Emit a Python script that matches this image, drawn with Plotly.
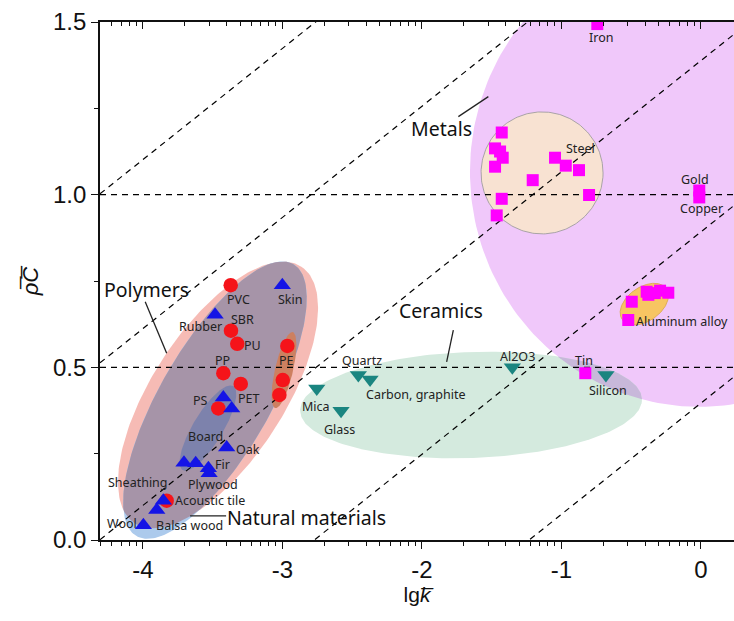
import numpy as np
import plotly.graph_objects as go

# ---------------- data ----------------
polymer_x = [-3.370, -3.368, -3.323, -2.964, -3.423, -3.298, -2.997, -3.021, -3.459, -3.829]
polymer_y = [0.738, 0.606, 0.568, 0.562, 0.483, 0.452, 0.463, 0.420, 0.381, 0.114]

natural_x = [-3.000, -3.482, -3.423, -3.363, -3.399, -3.705, -3.621, -3.530, -3.525, -3.853, -3.900, -3.996]
natural_y = [0.738, 0.652, 0.413, 0.381, 0.268, 0.224, 0.222, 0.208, 0.193, 0.114, 0.087, 0.043]

ceramic_x = [-2.753, -2.579, -2.455, -2.371, -1.351, -0.680]
ceramic_y = [0.439, 0.374, 0.478, 0.465, 0.500, 0.478]

metal_x = [-0.742, -1.427, -1.475, -1.439, -1.420, -1.475, -1.045, -0.968, -0.873, -1.205,
           -1.427, -0.801, -1.463, -0.011, -0.011,
           -0.495, -0.520, -0.388, -0.376, -0.330, -0.292, -0.233, -0.828]
metal_y = [1.494, 1.180, 1.134, 1.125, 1.107, 1.081, 1.107, 1.084, 1.071, 1.042,
           0.988, 0.999, 0.940, 1.012, 0.992,
           0.690, 0.637, 0.719, 0.710, 0.715, 0.722, 0.716, 0.483]

label_text = ["PVC", "Skin", "Rubber", "SBR", "PU", "PP", "PE", "PS", "PET", "Board", "Oak",
              "Fir", "Plywood", "Sheathing", "Acoustic tile", "Wool", "Balsa wood",
              "Quartz", "Carbon, graphite", "Mica", "Glass", "Al2O3", "Tin", "Silicon",
              "Iron", "Steel", "Gold", "Copper", "Aluminum alloy"]
label_x = [-3.317, -2.938, -3.583, -3.282, -3.214, -3.429, -2.973, -3.590, -3.239, -3.551, -3.246,
           -3.429, -3.497, -4.038, -3.522, -4.149, -3.669,
           -2.431, -2.042, -2.758, -2.587, -1.314, -0.839, -0.662,
           -0.716, -0.859, -0.045, 0.005, -0.135]
label_y = [0.695, 0.695, 0.617, 0.639, 0.562, 0.521, 0.521, 0.405, 0.411, 0.301, 0.261,
           0.220, 0.162, 0.166, 0.113, 0.048, 0.043,
           0.521, 0.422, 0.388, 0.321, 0.531, 0.519, 0.432,
           1.456, 1.134, 1.045, 0.961, 0.634]

group_text = ["Polymers", "Metals", "Ceramics", "Natural materials"]
group_x = [-3.973, -1.862, -1.862, -2.828]
group_y = [0.724, 1.192, 0.666, 0.064]
# leader lines (x0, y0, x1, y1)
leader_lines = [(-3.983, 0.690, -3.829, 0.541),
                (-1.738, 1.226, -1.523, 1.284),
                (-1.774, 0.608, -1.822, 0.516),
                (-3.661, 0.070, -3.403, 0.070)]

x_tick_vals = [-4, -3, -2, -1, 0]
x_tick_text = ["-4", "-3", "-2", "-1", "0"]
y_tick_vals = [0.0, 0.5, 1.0, 1.5]
y_tick_text = ["0.0", "0.5", "1.0", "1.5"]

# guide lines
guide_slope = 0.322
guide_x0 = [-7.42, -5.90, -4.31, -2.77, -1.23]
guide_h = [0.5, 1.0]

# ---------------- layout geometry ----------------
W, H = 734, 621
ML, MR, MT, MB = 100, 0, 22, 81
XR = [-4.307, 0.238]
YR = [0.0, 1.5]
KX = (W - ML - MR) / (XR[1] - XR[0])
KY = (H - MT - MB) / (YR[1] - YR[0])

# regions: center (data), semi-axes (px), angle (deg), fill rgb, outline
regions = {
    "metals":   (-0.006, 1.066, 230, 235, 0, (240, 200, 250), None),
    "steel":    (-1.138, 1.063, 61, 61, 0, (248, 226, 210), "rgba(150,150,150,0.8)"),
    "aluminum": (-0.405, 0.683, 27, 17, 35, (247, 197, 98), "rgba(220,170,80,0.9)"),
    "ceramics": (-1.647, 0.391, 171, 53, 2, (212, 234, 222), None),
    "polymers": (-3.461, 0.420, 153, 66, 57, (246, 187, 181), None),
    "natural":  (-3.483, 0.405, 157, 55, 60, (172, 202, 236), None),
    "board":    (-3.533, 0.324, 49, 15, 59, (125, 130, 172), None),
    "pe":       (-2.988, 0.492, 39, 9, 77, (205, 128, 96), None),
}
draw_order = ["metals", "steel", "aluminum", "ceramics", "polymers", "natural"]
overlaps = [("polymers", "natural"), ("metals", "ceramics")]
top_regions = ["board", "pe"]


def ellipse_px(cx, cy, a, b, ang, n=240):
    t = np.linspace(0, 2 * np.pi, n, endpoint=False)
    th = np.radians(ang)
    dx = a * np.cos(t) * np.cos(th) - b * np.sin(t) * np.sin(th)
    dy = a * np.cos(t) * np.sin(th) + b * np.sin(t) * np.cos(th)
    return np.column_stack([cx * KX + dx, cy * KY + dy])


def to_data(p):
    return p[:, 0] / KX, p[:, 1] / KY


def clip_convex(subject, clipper):
    out = list(subject)
    m = len(clipper)
    for i in range(m):
        a, b = clipper[i], clipper[(i + 1) % m]
        inp, out = out, []
        if not inp:
            break

        def inside(p):
            return (b[0] - a[0]) * (p[1] - a[1]) - (b[1] - a[1]) * (p[0] - a[0]) >= 0

        def inter(p, q):
            d1 = p - q
            d2 = a - b
            den = d1[0] * d2[1] - d1[1] * d2[0]
            t = ((p[0] - a[0]) * d2[1] - (p[1] - a[1]) * d2[0]) / den
            return p - t * d1

        s = inp[-1]
        for e in inp:
            if inside(e):
                if not inside(s):
                    out.append(inter(s, e))
                out.append(e)
            elif inside(s):
                out.append(inter(s, e))
            s = e
    return np.array(out)


def rgb(c):
    return "rgb(%d,%d,%d)" % c


fig = go.Figure()


def add_poly(p, color, line=None):
    x, y = to_data(np.vstack([p, p[:1]]))
    fig.add_trace(go.Scatter(
        x=x, y=y, mode="lines", fill="toself", fillcolor=color,
        line=dict(color=line if line else "rgba(0,0,0,0)", width=1),
        hoverinfo="skip", showlegend=False))


polys = {k: ellipse_px(*v[:5]) for k, v in regions.items()}
for k in draw_order:
    add_poly(polys[k], rgb(regions[k][5]), regions[k][6])
for k1, k2 in overlaps:
    inter_p = clip_convex(polys[k1], polys[k2])
    c1, c2 = regions[k1][5], regions[k2][5]
    mult = tuple(int(round(u * v / 255)) for u, v in zip(c1, c2))
    if len(inter_p) > 2:
        add_poly(inter_p, rgb(mult))
for k in top_regions:
    add_poly(polys[k], rgb(regions[k][5]), regions[k][6])

gx = np.array([XR[0], XR[1]])
for x0 in guide_x0:
    fig.add_trace(go.Scatter(x=gx, y=guide_slope * (gx - x0), mode="lines",
                             line=dict(color="black", width=1.2, dash="6px,5px"),
                             hoverinfo="skip", showlegend=False))
for hy in guide_h:
    fig.add_trace(go.Scatter(x=gx, y=[hy, hy], mode="lines",
                             line=dict(color="black", width=1.2, dash="6px,5px"),
                             hoverinfo="skip", showlegend=False))

fig.add_trace(go.Scatter(x=polymer_x, y=polymer_y, mode="markers",
                         marker=dict(symbol="circle", size=14.5, color="#f5141a"),
                         showlegend=False))
fig.add_trace(go.Scatter(x=natural_x, y=natural_y, mode="markers",
                         marker=dict(symbol="triangle-up", size=15, color="#1414e6"),
                         showlegend=False))
fig.add_trace(go.Scatter(x=ceramic_x, y=ceramic_y, mode="markers",
                         marker=dict(symbol="triangle-down", size=15, color="#1a8580"),
                         showlegend=False))
fig.add_trace(go.Scatter(x=metal_x, y=metal_y, mode="markers", cliponaxis=True,
                         marker=dict(symbol="square", size=12, color="#ff00ff"),
                         showlegend=False))
# invisible trace for the top axis
fig.add_trace(go.Scatter(x=[XR[0]], y=[YR[0]], xaxis="x2", mode="markers",
                         marker=dict(opacity=0), hoverinfo="skip", showlegend=False))

for t, x, y in zip(label_text, label_x, label_y):
    fig.add_annotation(x=x, y=y, text=t, showarrow=False, xanchor="center", yanchor="middle",
                       font=dict(family="Noto Sans", size=12.5, color="#222"))
for t, x, y in zip(group_text, group_x, group_y):
    fig.add_annotation(x=x, y=y, text=t, showarrow=False, xanchor="center", yanchor="middle",
                       font=dict(family="Noto Sans", size=19.5, color="#111"))
for x0, y0, x1, y1 in leader_lines:
    fig.add_shape(type="line", x0=x0, y0=y0, x1=x1, y1=y1, xref="x", yref="y",
                  line=dict(color="#222", width=1.3), layer="above")

minor_x = sorted(d + np.log10(n) for d in range(-5, 1) for n in range(2, 10)
                 if XR[0] <= d + np.log10(n) <= XR[1])
axis_font = dict(family="Liberation Sans, Arial", size=24, color="#111")

fig.update_layout(
    width=W, height=H,
    margin=dict(l=ML, r=MR, t=MT, b=MB),
    plot_bgcolor="white", paper_bgcolor="white",
    xaxis=dict(range=XR, showgrid=False, zeroline=False, showline=True, linecolor="#111",
               linewidth=1.6, ticks="outside", ticklen=7, tickwidth=1.4, tickcolor="#111",
               tickmode="array", tickvals=x_tick_vals, ticktext=x_tick_text,
               tickfont=axis_font,
               minor=dict(tickmode="array", tickvals=minor_x, ticks="outside", ticklen=4,
                          tickwidth=1.2, tickcolor="#111", showgrid=False),
               title=dict(text="lg<i>k\u0305</i>", font=dict(family="Liberation Sans, Arial",
                                                              size=21, color="#111"),
                          standoff=4)),
    xaxis2=dict(range=XR, overlaying="x", side="top", anchor="y", showgrid=False,
                zeroline=False, showline=True, linecolor="#111", linewidth=1.6,
                ticks="inside", ticklen=7, tickwidth=1.4, tickcolor="#111",
                tickmode="array", tickvals=x_tick_vals, showticklabels=False,
                minor=dict(tickmode="array", tickvals=minor_x, ticks="inside", ticklen=4,
                           tickwidth=1.2, tickcolor="#111", showgrid=False)),
    yaxis=dict(range=YR, showgrid=False, zeroline=False, showline=True, linecolor="#111",
               linewidth=1.6, ticks="outside", ticklen=7, tickwidth=1.4, tickcolor="#111",
               tickmode="array", tickvals=y_tick_vals, ticktext=y_tick_text,
               tickfont=axis_font,
               minor=dict(tickmode="array", tickvals=[0.25, 0.75, 1.25], ticks="outside",
                          ticklen=4, tickwidth=1.2, tickcolor="#111", showgrid=False),
               title=dict(text="<i>\u03c1\u0305C\u0305</i>",
                          font=dict(family="Liberation Sans, Arial", size=22, color="#111"),
                          standoff=8)),
)

fig.write_html("out.html")
